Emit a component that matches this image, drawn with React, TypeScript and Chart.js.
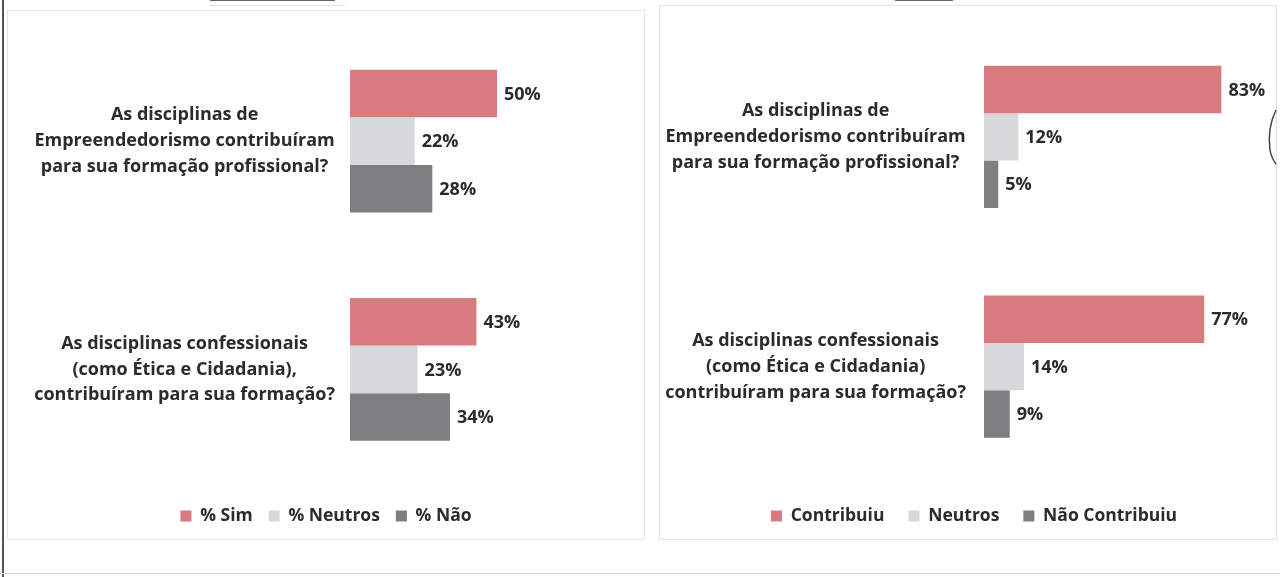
import React, { useEffect, useRef } from "react";
import { Chart, registerables } from "chart.js";

Chart.register(...registerables);

const leftCategories: string[][] = [
  ["As disciplinas de", "Empreendedorismo contribuíram", "para sua formação profissional?"],
  ["As disciplinas confessionais", "(como Ética e Cidadania),", "contribuíram para sua formação?"],
];
const leftSim = [50, 43];
const leftNeutros = [22, 23];
const leftNao = [28, 34];
const leftSeriesNames = ["% Sim", "% Neutros", "% Não"];

const rightCategories: string[][] = [
  ["As disciplinas de", "Empreendedorismo contribuíram", "para sua formação profissional?"],
  ["As disciplinas confessionais", "(como Ética e Cidadania)", "contribuíram para sua formação?"],
];
const rightContribuiu = [83, 77];
const rightNeutros = [12, 14];
const rightNaoContribuiu = [5, 9];
const rightSeriesNames = ["Contribuiu", "Neutros", "Não Contribuiu"];

const RED = "#d77b7e";
const LIGHT = "#d6d9db";
const DARK = "#7c7f80";
const TEXT = "#2b2b2b";
const FONT = "'Open Sans', sans-serif";

const valueLabels = {
  id: "valueLabels",
  afterDatasetsDraw(chart: any) {
    const ctx = chart.ctx;
    ctx.save();
    ctx.font = `bold 18px ${FONT}`;
    ctx.fillStyle = TEXT;
    ctx.textAlign = "left";
    ctx.textBaseline = "middle";
    chart.data.datasets.forEach((ds: any, di: number) => {
      const meta = chart.getDatasetMeta(di);
      meta.data.forEach((bar: any, i: number) => {
        ctx.fillText(`${ds.data[i]}%`, bar.x + 7, bar.y + 1);
      });
    });
    ctx.restore();
  },
};

const legendShift = {
  id: "legendShift",
  afterLayout(chart: any, _args: any, opts: any) {
    const dx = opts && opts.dx ? opts.dx : 0;
    if (chart.legend && dx) {
      chart.legend.left += dx;
      chart.legend.right += dx;
    }
  },
};

function BarPanel(props: any) {
  const ref = useRef<HTMLCanvasElement>(null);
  useEffect(() => {
    const colors = [RED, LIGHT, DARK];
    const chart = new Chart(ref.current!, {
      type: "bar",
      data: {
        labels: props.categories,
        datasets: props.series.map((d: number[], i: number) => ({
          label: props.names[i],
          data: d,
          backgroundColor: colors[i],
          borderWidth: 0,
          categoryPercentage: props.catPct,
          barPercentage: 1,
        })),
      },
      options: {
        indexAxis: "y",
        animation: false,
        responsive: false,
        maintainAspectRatio: false,
        layout: {
          padding: { left: 0, right: props.padRight, top: props.padTop, bottom: props.padBottom },
        },
        scales: {
          x: {
            display: true,
            min: 0,
            max: 100,
            grid: { display: false, drawTicks: false },
            border: { display: false },
            ticks: { display: false },
            afterFit: (scale: any) => {
              scale.height = props.xGap;
              scale.paddingLeft = 0;
              scale.paddingRight = 0;
            },
          },
          y: {
            grid: { display: false, drawTicks: false },
            border: { display: false },
            ticks: {
              crossAlign: "center",
              padding: props.tickPadding,
              color: TEXT,
              font: { family: FONT, size: 18, weight: "bold", lineHeight: 1.44 },
            },
            afterFit: (scale: any) => {
              scale.width = props.axisWidth;
              scale.paddingTop = 0;
              scale.paddingBottom = 0;
            },
          },
        },
        plugins: {
          tooltip: { enabled: false },
          legendShift: { dx: props.legendDx },
          legend: {
            position: "bottom",
            labels: {
              boxWidth: 11,
              boxHeight: 11,
              padding: props.legendPad,
              color: TEXT,
              font: { family: FONT, size: 17.5, weight: "bold" },
            },
          },
        },
      } as any,
      plugins: [valueLabels, legendShift],
    });
    return () => chart.destroy();
  }, []);
  return <canvas ref={ref} width={props.w} height={props.h} style={{ display: "block", width: props.w, height: props.h }} />;
}

export default function App() {
  return (
    <div style={{ position: "absolute", left: 0, top: 0, width: 1280, height: 577, background: "#fff", overflow: "hidden" }}>
      <div style={{ position: "absolute", left: 2, top: 0, width: 2, height: 577, background: "#555" }} />
      <div style={{ position: "absolute", left: 0, top: 573, width: 1280, height: 1, background: "#dcdcdc" }} />
      <div style={{ position: "absolute", left: 210, top: 0, width: 125, height: 1, background: "#666" }} />
      <div style={{ position: "absolute", left: 895, top: 0, width: 58, height: 1, background: "#666" }} />
      <div style={{ position: "absolute", left: 210, top: 5, width: 135, height: 1, background: "#e2e2e2" }} />
      <div style={{ position: "absolute", left: 7, top: 10, width: 636, height: 528, border: "1px solid #e6e6e6" }}>
        <BarPanel
          w={636}
          h={528}
          categories={leftCategories}
          series={[leftSim, leftNeutros, leftNao]}
          names={leftSeriesNames}
          axisWidth={342}
          padRight={0}
          padTop={16}
          padBottom={4.25}
          xGap={7.75}
          legendPad={16}
          legendDx={0}
          tickPadding={15}
          catPct={0.625}
        />
      </div>
      <div style={{ position: "absolute", left: 659, top: 5, width: 616, height: 533, border: "1px solid #e2e2e2" }}>
        <BarPanel
          w={616}
          h={533}
          categories={rightCategories}
          series={[rightContribuiu, rightNeutros, rightNaoContribuiu]}
          names={rightSeriesNames}
          axisWidth={324}
          padRight={6}
          padTop={16}
          padBottom={4.25}
          xGap={1.75}
          legendPad={24}
          legendDx={9}
          tickPadding={18}
          catPct={0.62}
        />
      </div>
      <svg style={{ position: "absolute", left: 1259, top: 100, width: 21, height: 80 }}>
        <path d="M 17 10 C 12 20, 9 35, 11 50 C 12 56, 14 60, 17 64" stroke="#444" strokeWidth="1.5" fill="none" />
      </svg>
    </div>
  );
}
